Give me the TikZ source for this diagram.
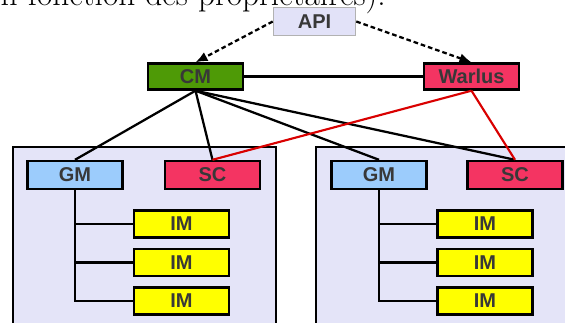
\documentclass[tikz,border=0pt]{standalone}
\usepackage{fontspec}
\setsansfont{Liberation Sans}
\usetikzlibrary{arrows.meta}

\definecolor{fondapi}{HTML}{E2E2F8}
\definecolor{vertcm}{HTML}{4E9A06}
\definecolor{rosesc}{HTML}{F43462}
\definecolor{bleugm}{HTML}{9CCCFC}
\definecolor{jauneim}{HTML}{FFFF00}
\definecolor{fondgrp}{HTML}{E4E4F8}
\definecolor{texte}{HTML}{383838}

\tikzset{
  boite/.style={draw, line width=1.8pt, inner sep=0pt,
    font=\sffamily\bfseries\fontsize{15}{15}\selectfont, text=texte,
    minimum width=71pt, minimum height=19.5pt},
  lien/.style={line width=1.7pt},
  lienrouge/.style={line width=1.6pt, red!85!black},
  fleche/.style={line width=1.7pt, dash pattern=on 3.5pt off 2.2pt, -{Latex[length=9pt,width=7.5pt]}},
}

\begin{document}
\begin{tikzpicture}[x=0.75pt, y=-0.75pt]

\useasboundingbox (0,0) rectangle (565,322);
\clip (0,0) rectangle (565,322);

% Phrase coupee en haut
\node[anchor=base east, inner sep=0pt, font=\fontsize{25}{25}\selectfont] (phrase) at (386,5) {en fonction des propriétaires).};

% Groupes
\filldraw[fill=fondgrp, line width=1.4pt] (13,147) rectangle (276,340);
\filldraw[fill=fondgrp, line width=1.4pt] (316,147) rectangle (600,340);

% Boites du haut
\node[boite, fill=fondapi, draw=gray!60, line width=0.7pt, minimum width=62pt, minimum height=21pt] (api) at (314.5,21.5) {API};
\node[boite, fill=vertcm] (cm) at (195.5,76.5) {CM};
\node[boite, fill=rosesc] (warlus) at (471.5,76.5) {Warlus};

% Boites des groupes
\node[boite, fill=bleugm, minimum height=21pt] (gm1) at (75,175) {GM};
\node[boite, fill=rosesc, minimum height=21pt] (sc1) at (212.5,175) {SC};
\node[boite, fill=bleugm, minimum height=21pt] (gm2) at (379,175) {GM};
\node[boite, fill=rosesc, minimum height=21pt] (sc2) at (515,175) {SC};

\foreach \i/\y in {1/224, 2/262.5, 3/301} {
  \node[boite, fill=jauneim, minimum height=20pt] (ima\i) at (181.5,\y) {IM};
  \node[boite, fill=jauneim, minimum height=20pt] (imb\i) at (485,\y) {IM};
  \draw[lien] (gm1.south) |- (ima\i.west);
  \draw[lien] (gm2.south) |- (imb\i.west);
}

% Liens
\draw[lien] (cm) -- (warlus);
\draw[lien] (cm.south) -- (gm1.north);
\draw[lien] (cm.south) -- (sc1.north);
\draw[lien] (cm.south) -- (gm2.north);
\draw[lien] (cm.south) -- (sc2.north);
\draw[lienrouge] (warlus.south) -- (sc1.north);
\draw[lienrouge] (warlus.south) -- (sc2.north);

% Fleches depuis API
\draw[fleche] (api.west) -- (cm.north);
\draw[fleche] (api.east) -- (warlus.north);

\end{tikzpicture}
\end{document}
